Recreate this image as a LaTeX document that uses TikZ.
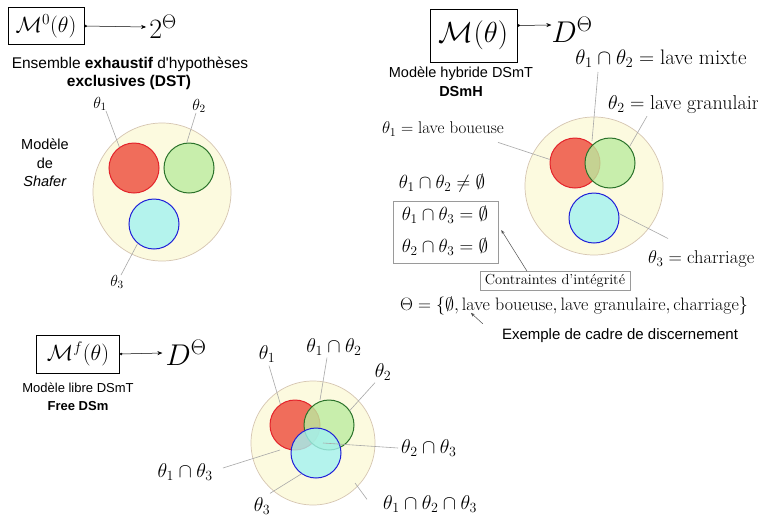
\RequirePackage{fix-cm}
\documentclass[tikz,border=0pt]{standalone}
\usepackage{amsmath,amssymb}
\usepackage{fontspec}
\newfontfamily\arialfont{Liberation Sans}
\usetikzlibrary{arrows.meta}
\definecolor{bigfill}{HTML}{FCFADF}
\definecolor{bigdraw}{HTML}{D6C6B2}
\definecolor{redfill}{HTML}{ED4A3B}
\definecolor{reddraw}{HTML}{E3232A}
\definecolor{greenfill}{HTML}{BBECA0}
\definecolor{greendraw}{HTML}{2A722A}
\definecolor{bluefill}{HTML}{A2F2F1}
\definecolor{bluedraw}{HTML}{1F1FD8}
\definecolor{leadgray}{HTML}{A8A8A8}
\definecolor{framegray}{HTML}{9A9A9A}
\tikzset{
  mbox/.style={draw=black, line width=1pt, inner sep=0pt},
  maparrow/.style={line width=0.5pt, {Circle[length=2.4pt]}-{Stealth[length=5pt,width=4pt]}},
  ptr/.style={line width=0.5pt, draw=black!70, -{Stealth[length=4pt,width=3pt]}},
  sans/.style={font=\arialfont\fontsize{#1}{#1}\selectfont, inner sep=0pt},
  sans/.default=13,
  mlab/.style={font=\fontsize{#1}{#1}\selectfont, inner sep=0pt},
  mlab/.default=19,
  leader/.style={draw=leadgray, line width=0.6pt},
  universe/.style={circle, draw=bigdraw, fill=bigfill, line width=0.7pt, minimum size=#1, inner sep=0pt},
  hypA/.style={circle, draw=reddraw, fill=redfill, fill opacity=0.8, draw opacity=1, line width=1pt, minimum size=50pt, inner sep=0pt},
  hypB/.style={circle, draw=greendraw, fill=greenfill, fill opacity=0.8, draw opacity=1, line width=1pt, minimum size=50pt, inner sep=0pt},
  hypC/.style={circle, draw=bluedraw, fill=bluefill, fill opacity=0.8, draw opacity=1, line width=1pt, minimum size=50pt, inner sep=0pt},
}
\begin{document}
\begin{tikzpicture}[x=1pt,y=-1pt]
\useasboundingbox (0,0) rectangle (758,520);
\fill[white] (0,0) rectangle (758,520);

% ---------- top left: Shafer model ----------
\node[mbox, minimum width=76pt, minimum height=37pt, font=\fontsize{22}{26}\selectfont] (m0) at (46,26) {$\mathcal{M}^0(\theta)$};
\node[inner sep=0pt, font=\fontsize{28}{32}\selectfont] (p0) at (163,27) {$2^\Theta$};
\draw[maparrow] (m0.east) -- ([xshift=-3pt]p0.west);
\node[sans=15.5] (ens) at (130,64) {Ensemble \textbf{exhaustif} d'hypothèses};
\node[sans=15.5] (exc) at (129,82) {\textbf{exclusives (DST)}};
\node[sans=14.5, align=center] (shf) at (45,163) {Modèle\\[4pt]de\\[4pt]\textit{Shafer}};

\node[universe=138pt] (u0) at (162,192) {};
\node[hypA] (a0) at (134,168) {};
\node[hypB] (b0) at (189,168) {};
\node[hypC] (c0) at (154,224) {};
\node[mlab=16] (ta0) at (100,104) {$\theta_1$};
\node[mlab=16] (tb0) at (199,106) {$\theta_2$};
\node[mlab=16] (tc0) at (117,282) {$\theta_3$};
\draw[leader] ([xshift=6pt]ta0.south) -- (a0.125);
\draw[leader] ([xshift=-3pt]tb0.south) -- (b0.95);
\draw[leader] ([xshift=4pt]tc0.north) -- (c0.230);

% ---------- top right: hybrid model ----------
\node[mbox, minimum width=87pt, minimum height=53pt, font=\fontsize{29}{33}\selectfont] (mh) at (473.5,35.5) {$\mathcal{M}(\theta)$};
\node[inner sep=0pt, font=\fontsize{30}{34}\selectfont] (dh) at (572,30) {$D^\Theta$};
\draw[maparrow] ([yshift=10pt]mh.east) -- ([yshift=5pt]dh.west);
\node[sans=14.5] (hyb) at (461,74) {Modèle hybride DSmT};
\node[sans=14.5] (dsmh) at (461,92) {\textbf{DSmH}};

\node[universe=138pt] (u1) at (594,186) {};
\node[hypA] (a1) at (575,163) {};
\node[hypB] (b1) at (610,163) {};
\node[hypC] (c1) at (594,218) {};
\coordinate (i12) at (592,141);

\node[mlab=21] (l12) at (661,59) {$\theta_1\cap\theta_2=\text{lave mixte}$};
\node[mlab=20, anchor=west] (l2) at (608,105) {$\theta_2=\text{lave granulaire}$};
\node[mlab=17] (l1) at (443,129) {$\theta_1=\text{lave boueuse}$};
\node[mlab=18.5, anchor=west] (l3) at (648,259) {$\theta_3=\text{charriage}$};
\draw[leader] (i12) -- (598,72);
\draw[leader] ([xshift=39pt,yshift=-2pt]l2.south west) -- (b1.40);
\draw[leader] ([xshift=-6pt,yshift=-6pt]l1.south east) -- (a1.172);
\draw[leader] (c1.10) -- ([xshift=20pt,yshift=12pt]l3.north west);

\node[mlab=19] (neq) at (442,183) {$\theta_1\cap\theta_2\neq\emptyset$};
\node[draw=framegray, line width=0.5pt, minimum width=105pt, minimum height=62pt, inner sep=0pt] (cbox) at (445.5,232) {};
\node[mlab=19] (c13) at (445,215) {$\theta_1\cap\theta_3=\emptyset$};
\node[mlab=19] (c23) at (445,247) {$\theta_2\cap\theta_3=\emptyset$};
\node[draw=framegray, line width=0.5pt, font=\fontsize{14.5}{16}\selectfont, inner xsep=5pt, inner ysep=3pt] (ctr) at (555,281) {Contraintes d'intégrité};
\draw[ptr] ([xshift=-28pt]ctr.north) -- ([xshift=3pt,yshift=2pt]cbox.east);

\node[mlab=18] (frame) at (574,306) {$\Theta=\{\emptyset,\text{lave boueuse},\text{lave granulaire},\text{charriage}\}$};
\node[sans=15] (ex) at (620,336) {Exemple de cadre de discernement};
\draw[ptr] ([xshift=-19pt,yshift=5pt]ex.north west) -- ([xshift=-31pt,yshift=16pt]ex.north west);

% ---------- bottom left: free model ----------
\node[mbox, minimum width=83pt, minimum height=38pt, font=\fontsize{22}{26}\selectfont] (mf) at (78,354) {$\mathcal{M}^f(\theta)$};
\node[inner sep=0pt, font=\fontsize{30}{34}\selectfont] (df) at (186,353) {$D^\Theta$};
\draw[maparrow] (mf.east) -- ([xshift=-3pt]df.west);
\node[sans=13] (lib) at (78,388) {Modèle libre DSmT};
\node[sans=13] (free) at (78,406) {\textbf{Free DSm}};

\node[universe=124pt] (u2) at (313,443) {};
\node[hypA] (a2) at (295,425) {};
\node[hypB] (b2) at (329,425) {};
\node[hypC] (c2) at (316,453) {};
\coordinate (j12) at (320,400);
\coordinate (j23) at (323,443);
\coordinate (j13) at (280,450);
\coordinate (j123) at (355,483);

\node[mlab=20] (fa) at (267,354) {$\theta_1$};
\node[mlab=20] (fab) at (334,347) {$\theta_1\cap\theta_2$};
\node[mlab=20] (fb) at (383,372) {$\theta_2$};
\node[mlab=20, anchor=west] (fbc) at (401,448) {$\theta_2\cap\theta_3$};
\node[mlab=20, anchor=east] (fac) at (213,472) {$\theta_1\cap\theta_3$};
\node[mlab=20] (fc) at (262,506) {$\theta_3$};
\node[mlab=20, anchor=west] (fabc) at (383,504) {$\theta_1\cap\theta_2\cap\theta_3$};
\draw[leader] ([xshift=2pt,yshift=-3pt]fa.south) -- (a2.125);
\draw[leader] ([xshift=-7pt,yshift=-2pt]fab.south) -- (j12);
\draw[leader] ([xshift=-8pt,yshift=-2pt]fb.south) -- (b2.35);
\draw[leader] (j23) -- ([xshift=-3pt]fbc.west);
\draw[leader] ([xshift=10pt,yshift=4pt]fac.east) -- (j13);
\draw[leader] ([xshift=8pt,yshift=4pt]fc.north) -- (c2.235);
\draw[leader] ([xshift=-16pt,yshift=-4pt]fabc.north west) -- (j123);
\end{tikzpicture}
\end{document}
